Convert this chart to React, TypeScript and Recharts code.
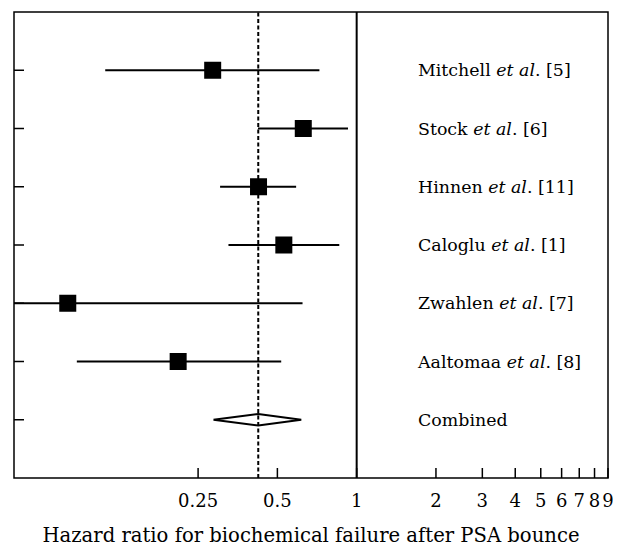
import { ComposedChart, ReferenceArea, ReferenceLine, Scatter, XAxis, YAxis } from 'recharts';

const studies = ['Mitchell', 'Stock', 'Hinnen', 'Caloglu', 'Zwahlen', 'Aaltomaa'];
const refs = [5, 6, 11, 1, 7, 8];
const hazardRatio = [0.284, 0.627, 0.424, 0.529, 0.08, 0.21];
const lower = [0.111, 0.422, 0.303, 0.326, 0.05, 0.0866];
const upper = [0.722, 0.927, 0.589, 0.859, 0.623, 0.517];

const combinedHr = 0.423;
const combinedLower = 0.286;
const combinedUpper = 0.616;

const xTicks = [0.25, 0.5, 1, 2, 3, 4, 5, 6, 7, 8, 9];
const rowTicks = [1, 2, 3, 4, 5, 6, 7];

const FONT = '"DejaVu Serif", serif';

const studyData = studies.map((name, i) => ({
  name,
  ref: refs[i],
  hr: hazardRatio[i],
  lo: lower[i],
  hi: upper[i],
  row: i + 1,
}));
const combinedRow = studies.length + 1;
const diamond = [
  { hr: combinedLower, row: combinedRow },
  { hr: combinedHr, row: combinedRow - 0.1 },
  { hr: combinedUpper, row: combinedRow },
  { hr: combinedHr, row: combinedRow + 0.1 },
  { hr: combinedLower, row: combinedRow },
];

function XTick({ x, y, payload }: any) {
  return (
    <g>
      <line x1={x} x2={x} y1={y} y2={y - 10} stroke="#000" strokeWidth={1.5} />
      <text x={x} y={y + 22} textAnchor="middle" dominantBaseline="central" fontFamily={FONT} fontSize={18} fill="#000">
        {String(payload.value)}
      </text>
    </g>
  );
}

function YTick({ x, y, payload }: any) {
  const i = payload.value - 1;
  const study = studyData[i];
  return (
    <g>
      <line x1={x} x2={x + 10} y1={y} y2={y} stroke="#000" strokeWidth={1.5} />
      <text x={x + 404} y={y} dominantBaseline="central" fontFamily={FONT} fontSize={17.4} fill="#000">
        {study ? (
          <>
            {study.name + ' '}
            <tspan fontStyle="italic">et al</tspan>
            {'. [' + study.ref + ']'}
          </>
        ) : (
          'Combined'
        )}
      </text>
    </g>
  );
}

function Square({ cx, cy }: any) {
  return <rect x={cx - 8.5} y={cy - 8.5} width={17} height={17} fill="#000" />;
}

function AxisTitle({ viewBox }: any) {
  const { x, y, width, height } = viewBox;
  return (
    <text x={x + width / 2} y={y + height - 12} textAnchor="middle" dominantBaseline="central" fontFamily={FONT} fontSize={19.6} fill="#000">
      Hazard ratio for biochemical failure after PSA bounce
    </text>
  );
}

export default function App() {
  return (
    <div style={{ width: 613, height: 539, fontFamily: FONT }}>
      <ComposedChart width={613} height={539} margin={{ top: 4, right: 13, bottom: 0, left: 5 }}>
        <XAxis
          dataKey="hr"
          type="number"
          scale="log"
          domain={[0.05, 9]}
          allowDataOverflow
          ticks={xTicks}
          interval={0}
          height={69}
          axisLine={false}
          tickLine={false}
          tickSize={0}
          tickMargin={0}
          tick={<XTick />}
          label={<AxisTitle />}
        />
        <YAxis
          dataKey="row"
          type="number"
          domain={[0, 8]}
          reversed
          ticks={rowTicks}
          interval={0}
          width={1}
          axisLine={false}
          tickLine={false}
          tickSize={0}
          tickMargin={0}
          tick={<YTick />}
        />
        <ReferenceArea x1={0.05} x2={9} y1={0} y2={8} fill="none" stroke="#000" strokeWidth={1.5} />
        <ReferenceLine x={1} stroke="#000" strokeWidth={2} />
        <ReferenceLine x={combinedHr} stroke="#000" strokeWidth={2} strokeDasharray="4 2.5" />
        {studyData.map((d) => (
          <ReferenceLine
            key={d.name}
            segment={[
              { x: d.lo, y: d.row },
              { x: d.hi, y: d.row },
            ]}
            stroke="#000"
            strokeWidth={2}
          />
        ))}
        <Scatter data={studyData} dataKey="row" shape={<Square />} isAnimationActive={false} />
        <Scatter
          data={diamond}
          dataKey="row"
          line={{ stroke: '#000', strokeWidth: 2 }}
          lineJointType="linear"
          shape={() => <g />}
          isAnimationActive={false}
        />
      </ComposedChart>
    </div>
  );
}
